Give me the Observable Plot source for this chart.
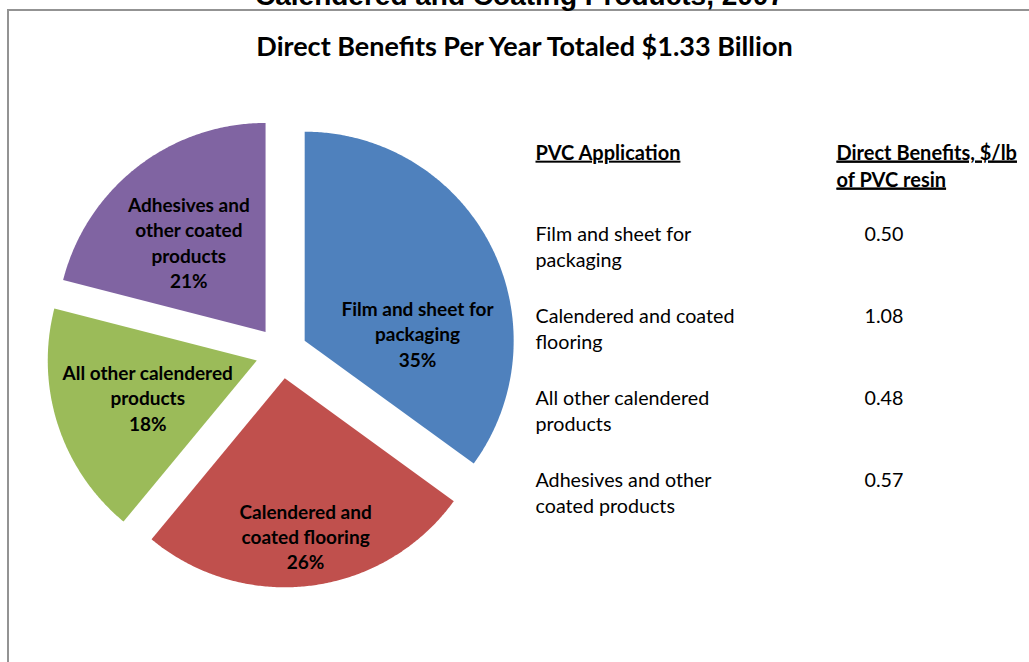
<!DOCTYPE html>
<html><head><meta charset="utf-8">
<script src="https://cdn.jsdelivr.net/npm/d3@7"></script>
<script src="https://cdn.jsdelivr.net/npm/@observablehq/plot@0.6"></script>
<style>
body{margin:0;background:#fff;}
#wrap{position:relative;width:1029px;height:662px;overflow:hidden;background:#fff;}
#frame{position:absolute;left:7px;top:9px;width:1100px;height:800px;border-left:2px solid #939393;border-top:2px solid #939393;}
.ttl{position:absolute;white-space:nowrap;line-height:1;text-align:center;width:1029px;}
#sup{left:5px;top:-20px;font:bold 28px "Liberation Sans",Arial,sans-serif;color:#000;}
#main{left:10px;top:29px;font:bold 27px Lato,sans-serif;color:#000;}
.layer{position:absolute;left:0;top:0;}
#table .hdr text, #table .hdr tspan{text-decoration:underline;}
</style></head>
<body><div id="wrap">
<div id="frame"></div>
<div class="ttl" id="sup">Calendered and Coating Products, 2007</div>
<div class="ttl" id="main">Direct Benefits Per Year Totaled $1.33 Billion</div>
<div class="layer" id="pie"></div>
<div class="layer" id="table"></div>
</div>
<script>
// ---- data ----
const categories = ["Film and sheet for packaging","Calendered and coated flooring","All other calendered products","Adhesives and other coated products"];
const shares = [35, 26, 18, 21];
const benefits = [0.50, 1.08, 0.48, 0.57];
const sliceLabels = ["Film and sheet for\npackaging","Calendered and\ncoated flooring","All other calendered\nproducts","Adhesives and\nother coated\nproducts"];
const tableLabels = ["Film and sheet for\npackaging","Calendered and coated\nflooring","All other calendered\nproducts","Adhesives and other\ncoated products"];
const headers = ["PVC Application","Direct Benefits, $/lb\nof PVC resin"];
const colors = ["#4F81BD","#C0504D","#9BBB59","#8064A2"];

// ---- layout ----
const W = 1029, H = 662, CX = 281, CY = 352, R = 209;
const EXPLODE = 26 / 209;
const labelAngle = [82, 172.5, 251.5, 320];
const labelRadius = [0.657, 0.885, 0.675, 0.69];

const total = d3.sum(shares);
let acc = 0;
const pieRows = [];
shares.forEach((v, i) => {
  const a0 = acc / total * 2 * Math.PI; acc += v; const a1 = acc / total * 2 * Math.PI;
  const m = (a0 + a1) / 2, ox = EXPLODE * Math.sin(m), oy = EXPLODE * Math.cos(m);
  pieRows.push({cat: categories[i], x: ox, y: oy});
  const n = Math.ceil((a1 - a0) / (Math.PI / 360));
  for (let k = 0; k <= n; k++) {
    const a = a0 + (a1 - a0) * k / n;
    pieRows.push({cat: categories[i], x: ox + Math.sin(a), y: oy + Math.cos(a)});
  }
});
const labelRows = shares.map((v, i) => {
  const a = labelAngle[i] * Math.PI / 180;
  return {x: labelRadius[i] * Math.sin(a), y: labelRadius[i] * Math.cos(a), text: sliceLabels[i] + "\n" + v + "%"};
});

const pie = Plot.plot({
  width: W, height: H, margin: 0,
  x: {domain: [-CX / R, (W - CX) / R], axis: null},
  y: {domain: [-(H - CY) / R, CY / R], axis: null},
  color: {domain: categories, range: colors},
  style: {background: "transparent", fontFamily: "Lato, sans-serif", color: "black"},
  marks: [
    Plot.line(pieRows, {x: "x", y: "y", z: "cat", fill: "cat", stroke: "none"}),
    Plot.text(labelRows, {x: "x", y: "y", text: "text", fontSize: 19, fontWeight: "bold", lineHeight: 1.33, fill: "black"})
  ]
});
document.getElementById("pie").append(pie);

const rowKeys = ["header", ...categories];
const table = Plot.plot({
  width: W, height: H, margin: 0,
  x: {type: "point", domain: headers, range: [535, 836], padding: 0, axis: null},
  y: {type: "point", domain: rowKeys, range: [139, 468.5], padding: 0, axis: null},
  style: {background: "transparent", fontFamily: "Lato, sans-serif", color: "black"},
  marks: [
    Plot.text(headers, {x: d => d, y: () => "header", text: d => d, textAnchor: "start", lineAnchor: "top", fontSize: 20, fontWeight: "bold", lineHeight: 1.35, fill: "black"}),
    Plot.text(categories, {x: () => headers[0], y: d => d, text: (d, i) => tableLabels[i], textAnchor: "start", lineAnchor: "top", fontSize: 19.7, lineHeight: 1.32, fill: "black"}),
    Plot.text(benefits, {x: () => headers[1], y: (d, i) => categories[i], text: d => d.toFixed(2), textAnchor: "start", dx: 28, dy: 4, lineAnchor: "top", fontSize: 19.7, fill: "black"})
  ]
});
document.getElementById("table").append(table);
const hdrG = d3.select(table).selectAll("g").filter(function() { return this.getAttribute("font-weight") === "bold"; });
hdrG.classed("hdr", true);
hdrG.selectAll("text, tspan").attr("text-decoration", "underline").style("text-decoration", "underline");
</script>
</body></html>
